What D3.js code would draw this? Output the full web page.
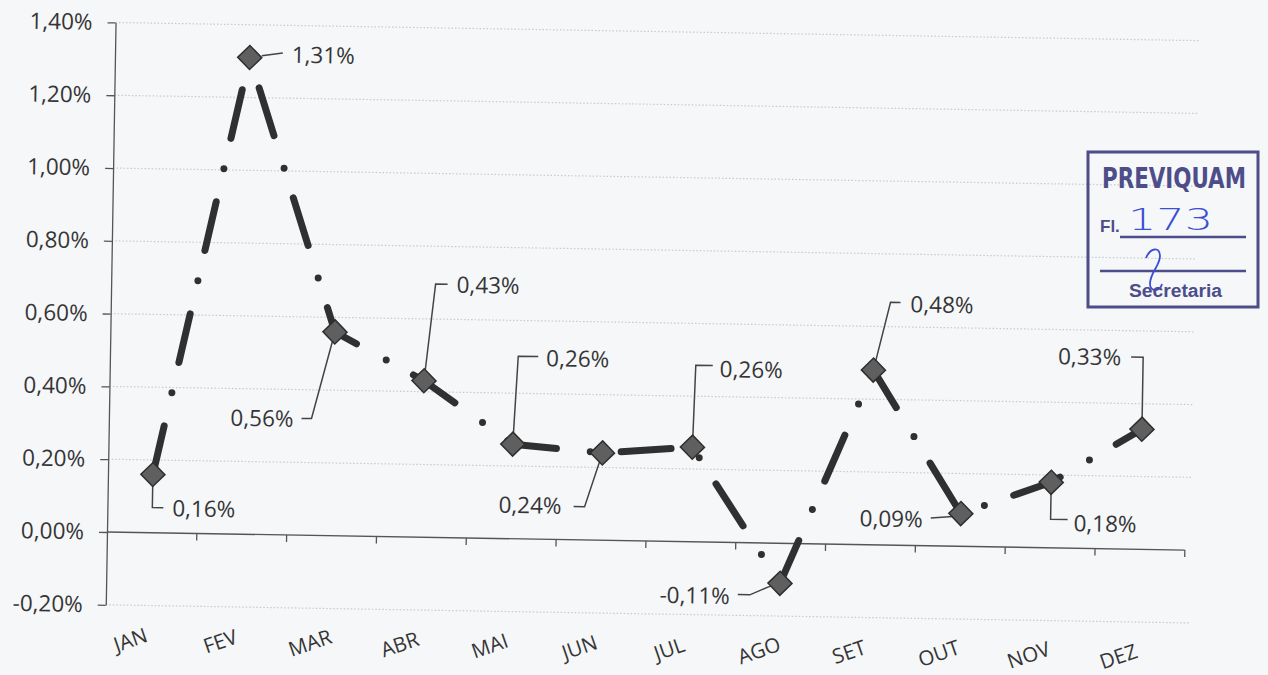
<!DOCTYPE html>
<html>
<head>
<meta charset="utf-8">
<script src="https://cdn.jsdelivr.net/npm/d3@7"></script>
<style>
  html, body { margin: 0; padding: 0; background: #f5f7f9; }
  svg { display: block; }
</style>
</head>
<body>
<script>
// ---- data ----
const months = ["JAN", "FEV", "MAR", "ABR", "MAI", "JUN", "JUL", "AGO", "SET", "OUT", "NOV", "DEZ"];
const values = [0.16, 1.31, 0.56, 0.43, 0.26, 0.24, 0.26, -0.11, 0.48, 0.09, 0.18, 0.33];
const yTicks = [-0.2, 0, 0.2, 0.4, 0.6, 0.8, 1.0, 1.2, 1.4];
const yDomain = [-0.2, 1.4];

// ---- data-label layout (offsets from marker, px) ----
const labelLayout = [
  { leader: [[0, 0], [0, 33], [11, 33]], tx: 20, ty: 33, anchor: "start" },
  { leader: [[12, -2], [33, -5]], tx: 42, ty: -4, anchor: "start" },
  { leader: [[0, 0], [-22, 87], [-32, 87]], tx: -40, ty: 87, anchor: "end" },
  { leader: [[0, 0], [10, -97], [22, -97]], tx: 31, ty: -97, anchor: "start" },
  { leader: [[0, 0], [4, -88], [24, -88]], tx: 32, ty: -87, anchor: "start" },
  { leader: [[0, 0], [-17, 54], [-28, 54]], tx: -40, ty: 53, anchor: "end" },
  { leader: [[0, 0], [2, -82], [19, -82]], tx: 26, ty: -79, anchor: "start" },
  { leader: [[0, 0], [-12, 4], [-30, 12], [-42, 12]], tx: -50, ty: 13, anchor: "end" },
  { leader: [[0, 0], [16, -68], [26, -68]], tx: 36, ty: -67, anchor: "start" },
  { leader: [[0, 0], [-8, 3], [-30, 5]], tx: -38, ty: 6, anchor: "end" },
  { leader: [[0, 0], [0, 37], [17, 37]], tx: 23, ty: 40, anchor: "start" },
  { leader: [[0, 0], [0, -72], [-12, -72]], tx: -22, ty: -72, anchor: "end" }
];

const W = 1268, H = 675;
const fontFam = "'Open Sans', 'Noto Sans', sans-serif";
const fmt = v => d3.format(".2f")(v).replace("\u2212", "-").replace(".", ",") + "%";

const svg = d3.select("body").append("svg").attr("width", W).attr("height", H);
svg.append("rect").attr("width", W).attr("height", H).attr("fill", "#f5f7f9");

// the scanned chart is slightly rotated
const origin = { x: 107, y: 532 };
const frame = svg.append("g").attr("transform", `rotate(0.96, ${origin.x}, ${origin.y})`);

const x = d3.scaleBand().domain(months).range([origin.x, origin.x + 1078]).paddingInner(0).paddingOuter(0);
const pxPerUnit = 364;
const y = d3.scaleLinear().domain(yDomain)
  .range([origin.y - yDomain[0] * pxPerUnit, origin.y - yDomain[1] * pxPerUnit]);

const [x0, x1] = x.range();

// gridlines
frame.append("g").selectAll("line").data(yTicks.filter(t => t !== 0)).join("line")
  .attr("x1", x0).attr("x2", x1 + 5)
  .attr("y1", d => y(d)).attr("y2", d => y(d))
  .attr("stroke", "#c6cacf").attr("stroke-width", 1.2)
  .attr("stroke-dasharray", "1.5 2");

// y axis
const yAxis = frame.append("g").attr("transform", `translate(${x0},0)`)
  .call(d3.axisLeft(y).tickValues(yTicks).tickSize(8).tickSizeOuter(0).tickPadding(15).tickFormat(fmt));
yAxis.select(".domain").attr("stroke", "#555").attr("stroke-width", 1.3);
yAxis.selectAll(".tick line").attr("stroke", "#555").attr("stroke-width", 1.3);
yAxis.selectAll("text").attr("fill", "#353535").style("font-family", fontFam).style("font-size", "22.5px");

// x axis at zero
const xa = frame.append("g");
xa.append("line").attr("x1", x0).attr("x2", x1).attr("y1", y(0)).attr("y2", y(0))
  .attr("stroke", "#555").attr("stroke-width", 1.3);
const boundaries = months.slice(1).map(m => x(m)).concat([x1]);
xa.selectAll("line.tk").data(boundaries).join("line").attr("class", "tk")
  .attr("x1", d => d).attr("x2", d => d).attr("y1", y(0)).attr("y2", y(0) + 7)
  .attr("stroke", "#555").attr("stroke-width", 1.3);

// category labels (low position, rotated)
frame.append("g").selectAll("text").data(months).join("text")
  .attr("transform", m => `translate(${x(m) + x.bandwidth() / 2 - 20}, ${y(yDomain[0]) + 34}) rotate(-20)`)
  .attr("text-anchor", "middle").attr("dominant-baseline", "central")
  .attr("fill", "#353535").style("font-family", fontFam).style("font-size", "20.5px")
  .text(m => m);

const pts = months.map((m, i) => ({ m, v: values[i], i, px: x(m) + x.bandwidth() / 2, py: y(values[i]) }));

// series line (long dash dot)
frame.append("path").datum(pts)
  .attr("d", d3.line().x(d => d.px).y(d => d.py))
  .attr("fill", "none").attr("stroke", "#303030").attr("stroke-width", 7)
  .attr("stroke-linecap", "round").attr("stroke-linejoin", "round")
  .attr("stroke-dasharray", "50 34 0 31");

// leader lines
frame.append("g").selectAll("path").data(pts).join("path")
  .attr("d", d => d3.line()(labelLayout[d.i].leader.map(p => [d.px + p[0], d.py + p[1]])))
  .attr("fill", "none").attr("stroke", "#444").attr("stroke-width", 1.5);

// markers
frame.append("g").selectAll("path").data(pts).join("path")
  .attr("d", d3.symbol(d3.symbolSquare, 290))
  .attr("transform", d => `translate(${d.px},${d.py}) rotate(45)`)
  .attr("fill", "#5f5f5f").attr("stroke", "#2e2e2e").attr("stroke-width", 1.5);

// data labels
frame.append("g").selectAll("text").data(pts).join("text")
  .attr("x", d => d.px + labelLayout[d.i].tx).attr("y", d => d.py + labelLayout[d.i].ty)
  .attr("text-anchor", d => labelLayout[d.i].anchor).attr("dominant-baseline", "central")
  .attr("fill", "#353535").style("font-family", fontFam).style("font-size", "22.5px")
  .text(d => fmt(d.v));

// ---- stamp on the scanned page ----
const stampTitle = "PREVIQUAM", stampFl = "Fl.", stampNum = "173", stampDept = "Secretaria";
const stamp = svg.append("g");
const ink = "#4d4d8a";
stamp.append("rect").attr("x", 1088).attr("y", 152).attr("width", 170).attr("height", 155)
  .attr("fill", "none").attr("stroke", ink).attr("stroke-width", 3);
stamp.append("text").attr("x", 1102).attr("y", 188).attr("textLength", 144).attr("lengthAdjust", "spacingAndGlyphs")
  .attr("fill", ink).style("font-family", "'Liberation Sans Narrow', 'DejaVu Sans Condensed', sans-serif")
  .style("font-weight", "bold").style("font-size", "24px").attr("transform", "translate(1102,188) scale(1,1.2) translate(-1102,-188)")
  .text(stampTitle);
stamp.append("text").attr("x", 1100).attr("y", 232).attr("fill", ink)
  .style("font-family", "'Liberation Sans Narrow', sans-serif").style("font-weight", "bold").style("font-size", "17px").text(stampFl);
stamp.append("text").attr("x", 1128).attr("y", 230).attr("textLength", 85).attr("lengthAdjust", "spacingAndGlyphs")
  .attr("fill", "#3b4ed6").style("font-family", "'DejaVu Sans', sans-serif").style("font-weight", "300").style("font-size", "30px").text(stampNum);
stamp.append("line").attr("x1", 1120).attr("x2", 1246).attr("y1", 237).attr("y2", 237).attr("stroke", ink).attr("stroke-width", 2.5);
stamp.append("line").attr("x1", 1100).attr("x2", 1246).attr("y1", 271).attr("y2", 271).attr("stroke", ink).attr("stroke-width", 2.5);
stamp.append("path").attr("d", "M1146,258 C1150,248 1160,246 1160,256 C1160,266 1150,272 1150,284 C1150,292 1160,292 1162,284")
  .attr("fill", "none").attr("stroke", "#3b4ed6").attr("stroke-width", 1.8);
stamp.append("text").attr("x", 1129).attr("y", 297).attr("textLength", 93).attr("lengthAdjust", "spacingAndGlyphs")
  .attr("fill", ink).style("font-family", "'Liberation Sans Narrow', sans-serif").style("font-weight", "bold").style("font-size", "18px").text(stampDept);
</script>
</body>
</html>
